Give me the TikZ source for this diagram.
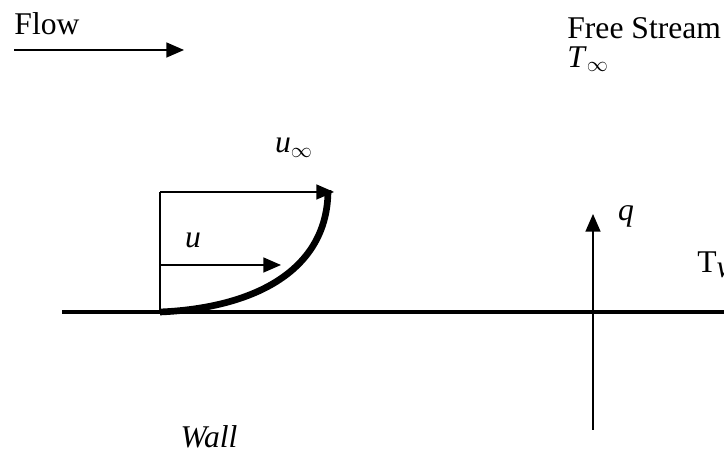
\documentclass[tikz,border=0pt]{standalone}
\usepackage{fontspec}
\setmainfont{Liberation Serif}
\usetikzlibrary{arrows.meta,positioning}

\begin{document}
\begin{tikzpicture}[
    x=0.02cm, y=-0.02cm,
    txt/.style={font=\fontsize{18}{20}\selectfont, inner sep=0pt},
    arr/.style={-{Triangle[length=10pt, width=8.5pt]}, line width=0.8pt},
    thin/.style={line width=0.8pt},
    wall/.style={line width=2.4pt},
    profile/.style={line width=3.8pt}
]
    \useasboundingbox (0,0) rectangle (724,465);

    % Labels
    \node[txt] (flow) at (47,24) {Flow};
    \node[txt, anchor=west] (free) at (567,28) {Free Stream};
    \node[txt, anchor=west] (tinf) at (567,59) {\textit{T}$_\infty$};
    \node[txt] (uinf) at (294,148) {\textit{u}$_\infty$};
    \node[txt] (ulab) at (193,240) {\textit{u}};
    \node[txt] (qlab) at (626,216) {\textit{q}};
    \node[txt, anchor=west] (tw) at (697,265) {T$_{\textit{w}}$};
    \node[txt] (walllab) at (209,437) {\textit{Wall}};

    % Points
    \coordinate (fs) at (14,50);
    \coordinate (fe) at (184,50);
    \coordinate (wl) at (62,312);
    \coordinate (wr) at (724,312);
    \coordinate (o) at (160,312);
    \coordinate (top) at (160,192);
    \coordinate (tip) at (334,192);
    \coordinate (us) at (160,265);
    \coordinate (ue) at (281,265);
    \coordinate (qb) at (593,430);
    \coordinate (qt) at (593,214);
    \coordinate (pe) at (328,190);

    % Flow arrow
    \draw[arr] (fs) -- (fe);

    % Wall
    \draw[wall] (wl) -- (wr);

    % Velocity profile
    \draw[thin] (o) -- (top);
    \draw[arr] (top) -- (tip);
    \draw[arr] (us) -- (ue);
    \draw[profile] (o) .. controls (255,308) and (328,270) .. (pe);

    % Heat flux
    \draw[arr] (qb) -- (qt);
\end{tikzpicture}
\end{document}
